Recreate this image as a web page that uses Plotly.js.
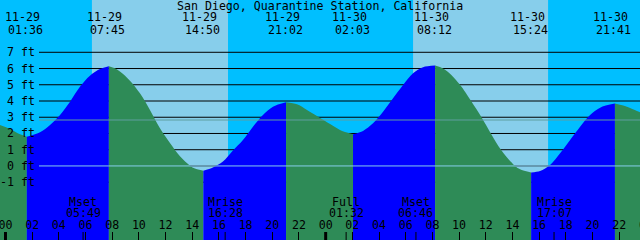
<!DOCTYPE html>
<html><head><meta charset="utf-8">
<script src="https://cdn.plot.ly/plotly-3.0.1.min.js"></script>
<style>html,body{margin:0;padding:0;background:#00bfff;overflow:hidden}#chart{width:640px;height:240px}</style>
</head><body><div id="chart"></div>
<script>
const titleText = "San Diego, Quarantine Station, California";

// tide height (ft), hours since 11-29 00:00
const tideHours = [-0.41, 0.34, 1.09, 1.60, 2.59, 3.34, 4.09, 4.84, 5.58, 6.33, 7.08, 7.75,
  8.21, 8.58, 9.33, 10.08, 10.83, 11.58, 12.33, 13.08, 13.83, 14.20, 14.83,
  15.55, 16.30, 17.05, 17.80, 18.55, 19.30, 20.05, 21.03,
  21.85, 22.60, 23.35, 24.33, 25.07, 26.05,
  26.80, 27.55, 28.30, 29.05, 29.80, 30.55, 31.30, 32.20,
  32.80, 33.40, 34.07, 34.90, 35.68, 36.38, 37.14, 38.19, 38.57, 39.40,
  40.07, 40.82, 41.57, 42.32, 43.07, 43.82, 44.57, 45.68,
  46.58, 47.33, 47.60];
const tideFeet = [2.52, 2.28, 1.95, 1.80, 2.07, 2.52, 3.14, 3.96, 4.88, 5.56, 5.97, 6.14,
  6.01, 5.81, 5.25, 4.47, 3.45, 2.32, 1.42, 0.60, 0.02, -0.16, -0.29,
  -0.10, 0.27, 0.95, 1.60, 2.42, 3.14, 3.65, 3.92,
  3.80, 3.45, 3.08, 2.58, 2.22, 1.95,
  2.16, 2.63, 3.34, 4.17, 4.99, 5.71, 6.08, 6.18,
  6.00, 5.62, 5.00, 4.00, 3.00, 2.00, 1.00, 0.00, -0.20, -0.40,
  -0.31, 0.06, 0.78, 1.60, 2.42, 3.14, 3.59, 3.84,
  3.65, 3.39, 3.30];

// high / low tide events
const eventDates = ["11-29", "11-29", "11-29", "11-29", "11-30", "11-30", "11-30", "11-30"];
const eventTimes = ["01:36", "07:45", "14:50", "21:02", "02:03", "08:12", "15:24", "21:41"];

// daylight (hours since 11-29 00:00)
const dayStart = [6.48, 30.55];
const dayEnd = [16.68, 40.67];

// moon events
const moonDates = ["11-29", "11-29", "11-30", "11-30", "11-30"];
const moonNames = ["Mset", "Mrise", "Full", "Mset", "Mrise"];
const moonTimes = ["05:49", "16:28", "01:32", "06:46", "17:07"];

// height scale
const ftLevels = [-1, 0, 1, 2, 3, 4, 5, 6, 7];
const ftLabels = ["-1 ft", "0 ft", "1 ft", "2 ft", "3 ft", "4 ft", "5 ft", "6 ft", "7 ft"];
const mslFeet = 2.83;
const zeroFeet = 0;

// hour ticks
const hourTicks = [0, 2, 4, 6, 8, 10, 12, 14, 16, 18, 20, 22, 24, 26, 28, 30, 32, 34, 36, 38, 40, 42, 44, 46, 48];
const hourLabels = ["00", "02", "04", "06", "08", "10", "12", "14", "16", "18", "20", "22",
  "00", "02", "04", "06", "08", "10", "12", "14", "16", "18", "20", "22", "00"];
const midnightHours = [0, 24, 48];

const xRange = [-0.41, 47.56];
const yRange = [-4.56, 10.22];

const FONT = {family: "DejaVu Sans Mono, Liberation Mono, monospace", size: 11.6, color: "#000"};
const W = 640, H = 240;
const py = p => 1 - p / H;

function toHours(date, time) {
  const [hh, mm] = time.split(":").map(Number);
  return (date === "11-30" ? 24 : 0) + hh + mm / 60;
}
const eventHours = eventDates.map((d, i) => toHours(d, eventTimes[i]));
const moonHours = moonDates.map((d, i) => toHours(d, moonTimes[i]));

// split the curve at each high / low
const cuts = [0];
eventHours.forEach(h => {
  let best = 0, bd = 1e9;
  tideHours.forEach((t, i) => { const d = Math.abs(t - h); if (d < bd) { bd = d; best = i; } });
  if (best > 0 && best < tideHours.length - 1) cuts.push(best);
});
cuts.push(tideHours.length - 1);

const traces = [];
for (let s = 0; s < cuts.length - 1; s++) {
  const a = cuts[s], b = cuts[s + 1];
  const xs = tideHours.slice(a, b + 1), ys = tideFeet.slice(a, b + 1);
  const rising = ys[ys.length - 1] > ys[0];
  traces.push({x: [xs[0], xs[xs.length - 1]], y: [yRange[0], yRange[0]], mode: "lines",
    line: {width: 0}, hoverinfo: "skip", type: "scatter"});
  traces.push({x: xs, y: ys, mode: "lines", fill: "tonexty",
    fillcolor: rising ? "#0000ff" : "#2e8b57",
    line: {width: 0, shape: "spline", smoothing: 0.9, color: rising ? "#0000ff" : "#2e8b57"},
    hoverinfo: "skip", type: "scatter"});
}
traces.push({x: hourTicks, y: hourTicks.map(() => 226), yaxis: "y2", mode: "text",
  text: hourLabels, textposition: "middle center", textfont: FONT, hoverinfo: "skip",
  cliponaxis: true, type: "scatter"});

const shapes = [];
dayStart.forEach((s, i) => shapes.push({type: "rect", xref: "x", yref: "paper", x0: s, x1: dayEnd[i],
  y0: 0, y1: 1, fillcolor: "#87ceeb", line: {width: 0}, layer: "below"}));
ftLevels.forEach(v => shapes.push({type: "line", xref: "paper", yref: "y", x0: 39 / W, x1: 1,
  y0: v, y1: v, line: {color: "#000", width: 1}, layer: "below"}));
shapes.push({type: "line", xref: "paper", yref: "y", x0: 39 / W, x1: 1, y0: mslFeet, y1: mslFeet,
  line: {color: "#5f9ea0", width: 1}, layer: "above"});
shapes.push({type: "line", xref: "paper", yref: "y", x0: 39 / W, x1: 1, y0: zeroFeet, y1: zeroFeet,
  line: {color: "#87ceeb", width: 1}, layer: "above"});
midnightHours.forEach(h => shapes.push({type: "line", xref: "x", yref: "paper", x0: h, x1: h,
  y0: 0, y1: 8 / H, line: {color: "#000", width: 3}, layer: "above"}));
moonHours.forEach(h => shapes.push({type: "line", xref: "x", yref: "paper", x0: h, x1: h,
  y0: 0, y1: 8 / H, line: {color: "#000", width: 1}, layer: "above"}));

const ann = [];
ann.push({text: titleText, xref: "paper", yref: "paper", x: 0.5, y: py(5.5), xanchor: "center",
  yanchor: "middle", showarrow: false, font: FONT});
eventHours.forEach((h, i) => {
  ann.push({text: eventDates[i], xref: "x", yref: "paper", x: h, xshift: -4, y: py(16.7),
    xanchor: "center", yanchor: "middle", showarrow: false, font: FONT});
  ann.push({text: eventTimes[i], xref: "x", yref: "paper", x: h, xshift: -1, y: py(29.5),
    xanchor: "center", yanchor: "middle", showarrow: false, font: FONT});
});
ftLevels.forEach((v, i) => ann.push({text: ftLabels[i], xref: "paper", yref: "y", x: 37 / W, y: v,
  xanchor: "right", yanchor: "middle", showarrow: false, font: FONT}));
moonHours.forEach((h, i) => {
  ann.push({text: moonNames[i], xref: "x", yref: "paper", x: h, y: py(201.5),
    xanchor: "center", yanchor: "middle", showarrow: false, font: FONT});
  ann.push({text: moonTimes[i], xref: "x", yref: "paper", x: h, y: py(212.5),
    xanchor: "center", yanchor: "middle", showarrow: false, font: FONT});
});

const layout = {
  width: W, height: H, margin: {l: 0, r: 0, t: 0, b: 0, pad: 0},
  paper_bgcolor: "#00bfff", plot_bgcolor: "#00bfff", showlegend: false,
  xaxis: {range: xRange, showgrid: false, zeroline: false, showline: false, showticklabels: false,
    ticks: "inside", ticklen: 8, tickwidth: 1, tickcolor: "#000", tickmode: "linear", tick0: 0, dtick: 2,
    layer: "above traces", fixedrange: true},
  yaxis: {range: yRange, visible: false, fixedrange: true},
  yaxis2: {range: [H, 0], overlaying: "y", visible: false, fixedrange: true},
  shapes: shapes, annotations: ann
};
Plotly.newPlot("chart", traces, layout, {staticPlot: true, displayModeBar: false});
</script></body></html>
